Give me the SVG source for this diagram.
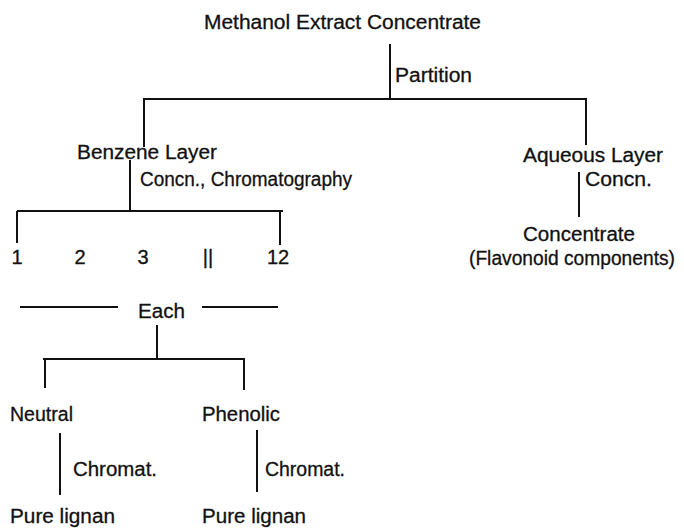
<svg xmlns="http://www.w3.org/2000/svg" width="684" height="529" viewBox="0 0 684 529">
<style>
text{font-family:"Liberation Sans",Arial,sans-serif;font-size:20px;fill:#111;stroke:#111;stroke-width:0.3}
.c line{stroke:#111;stroke-width:2;fill:none}
</style>
<rect width="684" height="529" fill="#fff"/>
<g class="c" id="connectors">
<line x1="390" y1="44" x2="390" y2="100"/>
<line x1="143" y1="99" x2="587" y2="99"/>
<line x1="144" y1="99" x2="144" y2="147"/>
<line x1="586" y1="99" x2="586" y2="145"/>
<line x1="130" y1="160" x2="130" y2="211"/>
<line x1="17" y1="211" x2="283" y2="211"/>
<line x1="17" y1="211" x2="17" y2="243"/>
<line x1="280" y1="211" x2="280" y2="245"/>
<line x1="579" y1="172" x2="579" y2="217"/>
<line x1="20" y1="307" x2="118" y2="307"/>
<line x1="202" y1="307" x2="278" y2="307"/>
<line x1="157" y1="325" x2="157" y2="359"/>
<line x1="43" y1="359" x2="245" y2="359"/>
<line x1="45" y1="359" x2="45" y2="388"/>
<line x1="244" y1="359" x2="244" y2="390"/>
<line x1="60" y1="433" x2="60" y2="495"/>
<line x1="257" y1="430" x2="257" y2="492"/>
</g>
<g id="methanol"><text x="204" y="29" textLength="277" lengthAdjust="spacingAndGlyphs">Methanol Extract Concentrate</text></g>
<g id="partition"><text x="395" y="82" textLength="77" lengthAdjust="spacingAndGlyphs">Partition</text></g>
<g id="benzene"><text x="77" y="159" textLength="140" lengthAdjust="spacingAndGlyphs">Benzene Layer</text></g>
<g id="concn-chrom"><text x="140" y="186" textLength="212" lengthAdjust="spacingAndGlyphs">Concn., Chromatography</text></g>
<g id="aqueous"><text x="523" y="162" textLength="140" lengthAdjust="spacingAndGlyphs">Aqueous Layer</text></g>
<g id="concn"><text x="585" y="186" textLength="67" lengthAdjust="spacingAndGlyphs">Concn.</text></g>
<g id="concentrate">
<text x="523" y="241" textLength="112" lengthAdjust="spacingAndGlyphs">Concentrate</text>
<text x="469" y="265" font-size="19" textLength="206" lengthAdjust="spacingAndGlyphs">(Flavonoid components)</text>
</g>
<g id="fractions" text-anchor="middle">
<text x="17" y="264">1</text>
<text x="80" y="264">2</text>
<text x="143" y="264">3</text>
<text x="208" y="264">||</text>
<text x="278" y="264">12</text>
</g>
<g id="each"><text x="138" y="318" textLength="47" lengthAdjust="spacingAndGlyphs">Each</text></g>
<g id="neutral"><text x="10" y="421" textLength="63" lengthAdjust="spacingAndGlyphs">Neutral</text></g>
<g id="phenolic"><text x="202" y="421" textLength="78" lengthAdjust="spacingAndGlyphs">Phenolic</text></g>
<g id="chromat1"><text x="73" y="476" textLength="84" lengthAdjust="spacingAndGlyphs">Chromat.</text></g>
<g id="chromat2"><text x="265" y="476" textLength="80" lengthAdjust="spacingAndGlyphs">Chromat.</text></g>
<g id="lignan1"><text x="10" y="523" textLength="105" lengthAdjust="spacingAndGlyphs">Pure lignan</text></g>
<g id="lignan2"><text x="202" y="523" textLength="104" lengthAdjust="spacingAndGlyphs">Pure lignan</text></g>
</svg>
